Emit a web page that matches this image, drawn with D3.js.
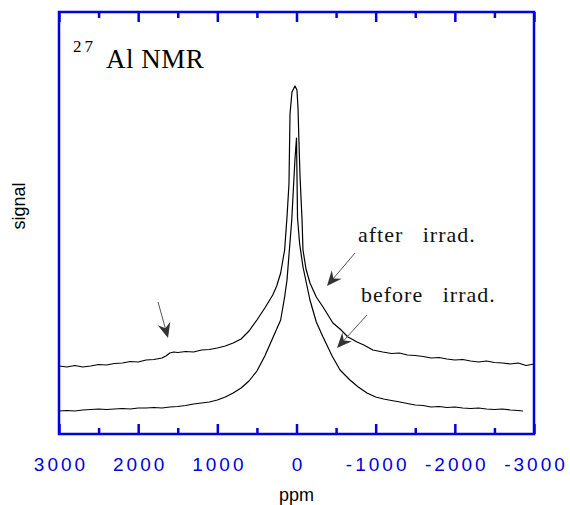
<!DOCTYPE html>
<html lang="en">
<head>
    <meta charset="UTF-8">
    <title>27Al NMR spectra</title>
    <script src="https://d3js.org/d3.v7.min.js"></script>
    <style>
        body { margin: 0; background: #fff; }
        .tick-label { font-family: "Liberation Sans", Arial, sans-serif; font-size: 19px; fill: #0000e0; letter-spacing: 3px; }
        .axis-title { font-family: "Liberation Sans", Arial, sans-serif; font-size: 18px; fill: #000; }
        .note { font-family: "Liberation Serif", "Times New Roman", serif; font-size: 22px; fill: #111; letter-spacing: 1px; white-space: pre; }
    </style>
</head>
<body>
<script>
    // spectrum: chemical shift (ppm) and signal (arb. units)
    const afterPpm = [3000, 2900, 2800, 2700, 2600, 2500, 2400, 2300, 2200, 2100, 2000, 1900, 1800, 1700, 1650, 1600, 1550, 1500, 1400, 1300, 1200, 1100, 1000, 900, 800, 700, 600, 500, 400, 300, 250, 200, 150, 120, 95, 82, 57, 19, -6, -19, -32, -44, -70, -82, -120, -170, -250, -335, -460, -550, -650, -765, -850, -965, -1090, -1200, -1300, -1400, -1500, -1600, -1700, -1800, -1900, -2000, -2100, -2200, -2300, -2400, -2500, -2600, -2700, -2800, -2900, -3000];
    const afterSignal = [68, 67, 68.5, 67, 68, 69.5, 69, 70.5, 71, 72.5, 72, 74, 74.5, 76, 78, 81, 82, 81.5, 82.5, 82, 84, 84.5, 86, 88, 91, 95, 103, 114, 126, 139, 148, 161, 184, 217, 250, 320, 342, 348, 344, 326, 290, 259, 214, 184, 165, 151, 137, 127, 111, 105, 97, 92, 89, 84, 82, 80.5, 81, 79, 78.5, 77.5, 76, 76.5, 75, 74, 74.5, 73, 72, 73, 71.5, 71, 70, 71, 68.5, 70];

    const beforePpm = [3000, 2900, 2800, 2700, 2600, 2500, 2400, 2300, 2200, 2100, 2000, 1900, 1800, 1700, 1600, 1500, 1400, 1300, 1200, 1100, 1000, 900, 800, 700, 600, 500, 400, 300, 200, 150, 120, 90, 60, 40, 20, 0, -13, -40, -82, -170, -250, -335, -450, -550, -675, -780, -890, -1000, -1100, -1200, -1307, -1400, -1500, -1600, -1700, -1800, -1900, -2000, -2100, -2200, -2300, -2400, -2500, -2600, -2700, -2800, -2860];
    const beforeSignal = [23, 23.5, 23, 24, 24.5, 25, 24.5, 25, 25.5, 25, 26, 26, 26.5, 26, 27, 27.5, 28.5, 30, 31, 32, 34, 37, 41, 46, 53, 63, 78, 96, 114, 137, 154, 184, 214, 244, 274, 296, 216, 190, 167, 134, 112, 97, 78, 64, 54, 47, 41, 37, 35, 33.5, 32, 30.5, 29, 28.5, 27, 27.5, 26.5, 27, 26, 25.5, 26, 25, 24.5, 25, 24, 23.5, 23];

    const majorTicks = [3000, 2000, 1000, 0, -1000, -2000, -3000];
    const minorTicks = [2500, 1500, 500, -500, -1500, -2500];

    // annotations in data coordinates
    const labels = [
        {text: "after   irrad.", ppm: -776, s: 192},
        {text: "before   irrad.", ppm: -815, s: 132}
    ];
    const arrows = [
        {from: [-739, 181], to: [-385, 148]},
        {from: [-890, 119], to: [-512, 86]},
        {from: [1749, 132], to: [1623, 96]}
    ];

    const width = 570, height = 505;
    const plotLeft = 59, plotRight = 534, plotTop = 12, plotBottom = 434;
    const blue = "#0000e0";

    const svg = d3.select("body").append("svg")
        .attr("width", width)
        .attr("height", height);

    const x = d3.scaleLinear().domain([3000, -3000]).range([plotLeft, plotRight]);
    const y = d3.scaleLinear().domain([0, 422]).range([plotBottom, plotTop]);

    // bottom axis: inward ticks, blue labels
    const gBottom = svg.append("g")
        .attr("transform", `translate(0,${plotBottom})`)
        .call(d3.axisBottom(x).tickValues(majorTicks).tickSizeInner(-10).tickSizeOuter(0)
            .tickPadding(24).tickFormat(d => String(d)));
    gBottom.select(".domain").remove();
    gBottom.selectAll("line").attr("stroke", blue).attr("stroke-width", 2.5);
    gBottom.selectAll("text").attr("class", "tick-label").attr("fill", null)
        .attr("dx", 1.5);
    gBottom.attr("font-size", null).attr("font-family", null);

    const gBottomMinor = svg.append("g")
        .attr("transform", `translate(0,${plotBottom})`)
        .call(d3.axisBottom(x).tickValues(minorTicks).tickSize(-6).tickFormat(""));
    gBottomMinor.select(".domain").remove();
    gBottomMinor.selectAll("line").attr("stroke", blue).attr("stroke-width", 2.5);

    // top axis mirrors the ticks
    const gTop = svg.append("g")
        .attr("transform", `translate(0,${plotTop})`)
        .call(d3.axisTop(x).tickValues(majorTicks).tickSize(-10).tickFormat(""));
    gTop.select(".domain").remove();
    gTop.selectAll("line").attr("stroke", blue).attr("stroke-width", 2.5);

    const gTopMinor = svg.append("g")
        .attr("transform", `translate(0,${plotTop})`)
        .call(d3.axisTop(x).tickValues(minorTicks).tickSize(-6).tickFormat(""));
    gTopMinor.select(".domain").remove();
    gTopMinor.selectAll("line").attr("stroke", blue).attr("stroke-width", 2.5);

    // frame
    svg.append("rect")
        .attr("x", plotLeft).attr("y", plotTop)
        .attr("width", plotRight - plotLeft).attr("height", plotBottom - plotTop)
        .attr("fill", "none")
        .attr("stroke", blue)
        .attr("stroke-width", 2.5);

    // spectra
    const line = d3.line().x(d => x(d[0])).y(d => y(d[1]));
    const series = [
        d3.zip(afterPpm, afterSignal),
        d3.zip(beforePpm, beforeSignal)
    ];
    svg.append("g")
        .selectAll("path")
        .data(series)
        .join("path")
        .attr("d", line)
        .attr("fill", "none")
        .attr("stroke", "#000")
        .attr("stroke-width", 1.2)
        .attr("stroke-linejoin", "round");

    // arrows with stealth heads
    arrows.forEach(a => {
        const x1 = x(a.from[0]), y1 = y(a.from[1]);
        const x2 = x(a.to[0]), y2 = y(a.to[1]);
        const rad = Math.atan2(y2 - y1, x2 - x1);
        svg.append("line")
            .attr("x1", x1).attr("y1", y1)
            .attr("x2", x2 - 8 * Math.cos(rad))
            .attr("y2", y2 - 8 * Math.sin(rad))
            .attr("stroke", "#555")
            .attr("stroke-width", 1);
        svg.append("path")
            .attr("d", "M0,0 L-15,-6.5 L-10,0 L-15,6.5 Z")
            .attr("transform", `translate(${x2},${y2}) rotate(${rad * 180 / Math.PI})`)
            .attr("fill", "#333");
    });

    svg.selectAll(".note")
        .data(labels)
        .join("text")
        .attr("class", "note")
        .attr("x", d => x(d.ppm))
        .attr("y", d => y(d.s))
        .text(d => d.text);

    // title
    const title = svg.append("text")
        .attr("font-family", "'Liberation Serif', 'Times New Roman', serif")
        .attr("fill", "#000");
    title.append("tspan")
        .attr("x", 73).attr("y", 52)
        .attr("font-size", 17)
        .attr("letter-spacing", 3)
        .text("27");
    title.append("tspan")
        .attr("x", 106).attr("y", 68)
        .attr("font-size", 27)
        .attr("letter-spacing", 0.5)
        .text("Al NMR");

    // axis titles
    svg.append("text")
        .attr("class", "axis-title")
        .attr("x", (plotLeft + plotRight) / 2)
        .attr("y", 501)
        .attr("text-anchor", "middle")
        .text("ppm");

    svg.append("text")
        .attr("class", "axis-title")
        .attr("transform", "translate(25,206) rotate(-90)")
        .attr("text-anchor", "middle")
        .text("signal");
</script>
</body>
</html>
